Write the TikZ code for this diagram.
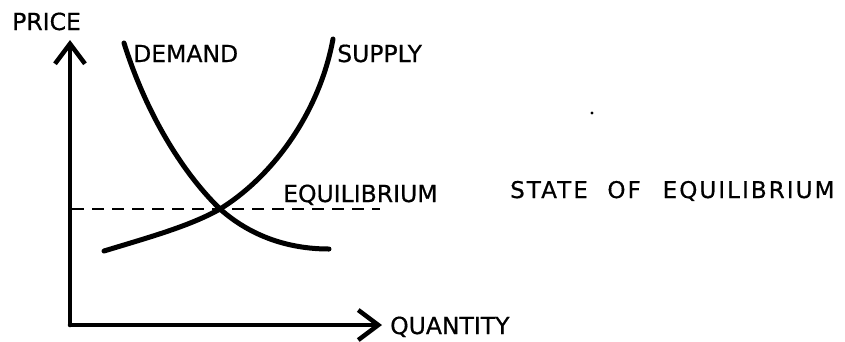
\documentclass[tikz,border=0pt]{standalone}
\usepackage{fontspec}
\setmainfont[FakeBold=0.6]{DejaVu Sans}
\newfontfamily\spacedfont[LetterSpace=9,FakeBold=0.6]{DejaVu Sans}
\usetikzlibrary{arrows.meta}
\begin{document}
\begin{tikzpicture}[x=1pt,y=-1pt,
  lbl/.style={anchor=base west,inner sep=0pt,font=\fontsize{23.5}{24}\selectfont},
  axis/.style={line width=4.5pt,line cap=round,-{Straight Barb[length=20pt,width=30pt,line width=4.5pt]}},
  curve/.style={line width=5pt,line cap=round},
  eqline/.style={line width=1.8pt,dash pattern=on 12pt off 8pt}]
\useasboundingbox (0,0) rectangle (845,341);
\coordinate (O) at (70,325);
\coordinate (ytop) at (70,40);
\coordinate (xend) at (382,325);
\draw[axis] (O) -- (ytop);
\draw[axis] (O) -- (xend);
\node[lbl] (price) at (12,30) {PRICE};
\node[lbl] (qty) at (390,334) {QUANTITY};
\node[lbl] (dem) at (133,62) {DEMAND};
\node[lbl] (sup) at (337,62) {SUPPLY};
\node[lbl] (eq) at (283,202) {EQUILIBRIUM};
\node[lbl,font=\spacedfont\fontsize{23}{24}\selectfont] (state) at (510,198) {STATE\hspace{0.85em}OF\hspace{0.95em}EQUILIBRIUM};
\coordinate (X) at (220,209);
\coordinate (d0) at (124,43);
\coordinate (d1) at (329,249);
\coordinate (s0) at (104,251);
\coordinate (s1) at (333,39);
\draw[curve] (d0) .. controls (145,110) and (180,170) .. (X) .. controls (255,240) and (295,249) .. (d1);
\draw[curve] (s0) .. controls (150,237) and (190,226) .. (X) .. controls (275,175) and (320,110) .. (s1);
\coordinate (e0) at (72,209);
\coordinate (e1) at (380,209);
\draw[eqline] (e0) -- (e1);
\fill (592,113) circle (1.6pt);
\end{tikzpicture}
\end{document}
